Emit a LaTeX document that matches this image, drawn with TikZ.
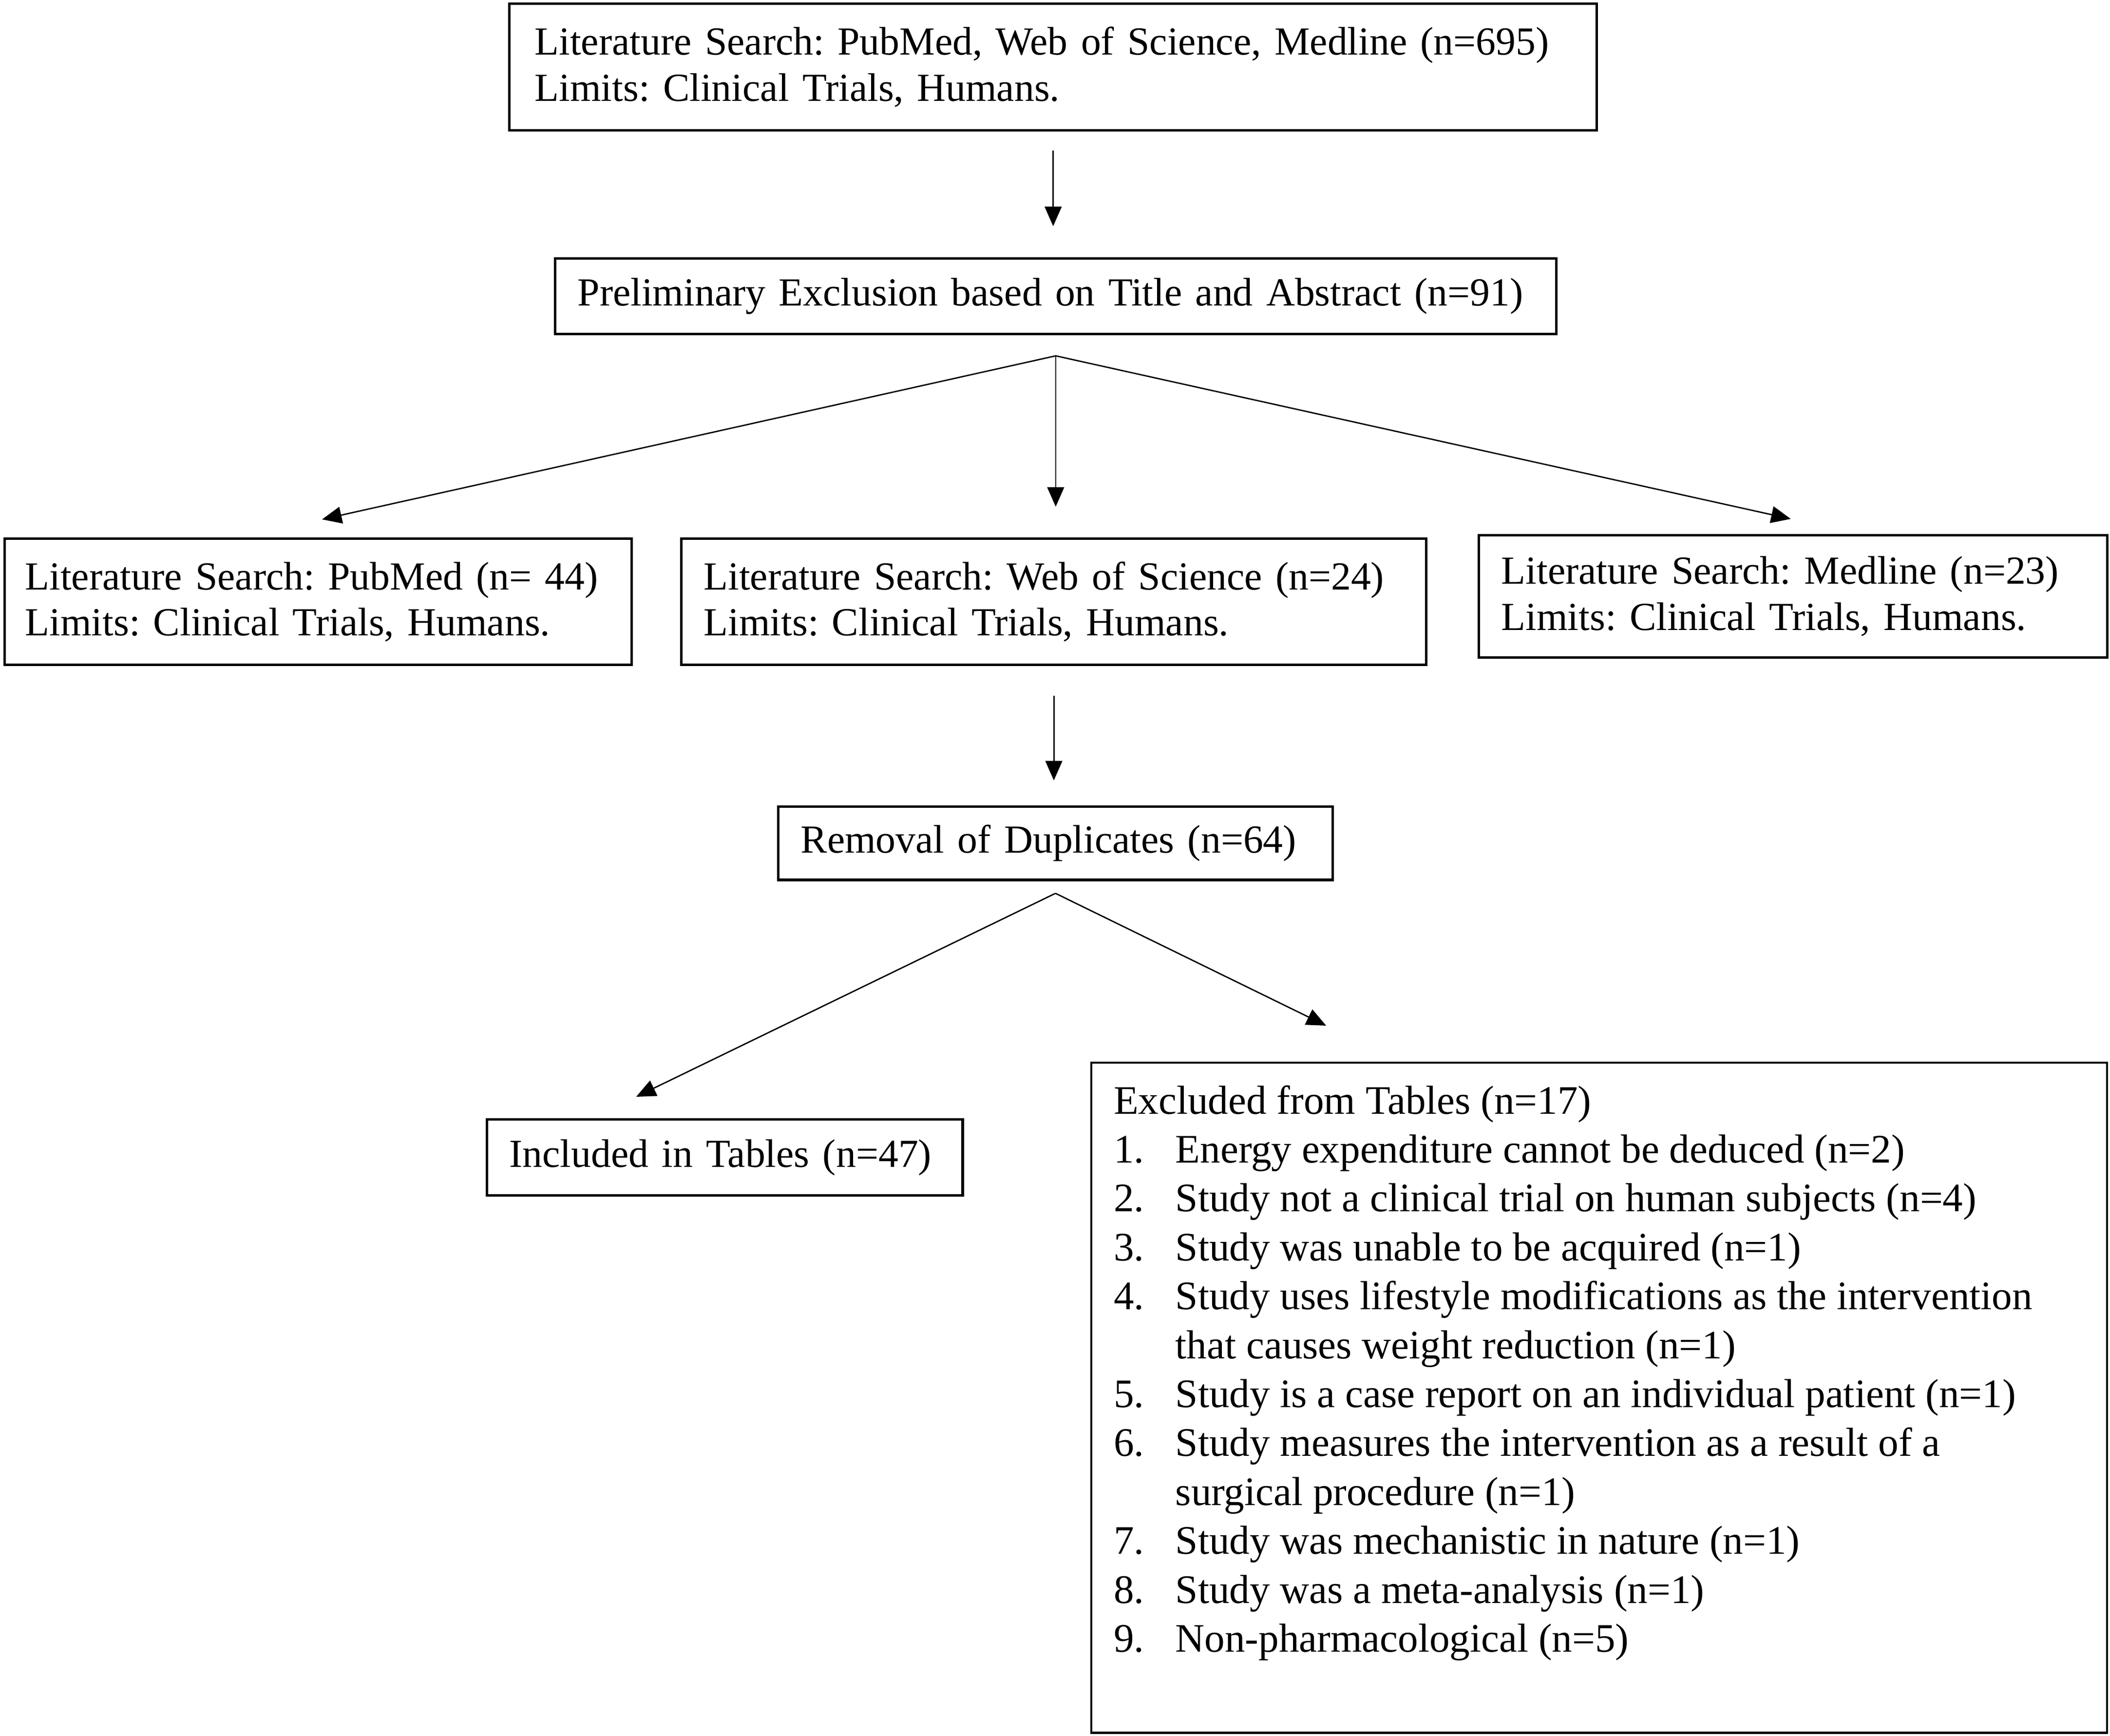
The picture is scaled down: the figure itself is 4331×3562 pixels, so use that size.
\documentclass[tikz,border=0pt]{standalone}
\usepackage{fontspec}
\setmainfont{Liberation Serif}
\usetikzlibrary{arrows.meta, positioning, calc}

\newcommand{\itemno}[1]{\makebox[18.3pt][l]{#1}}

\begin{document}
\frenchspacing
\begin{tikzpicture}[x=0.1444pt, y=-0.1444pt,
    every node/.style={draw, line width=0.75pt, anchor=north west, align=left, inner xsep=6.64pt, inner ysep=0pt, font=\fontsize{11.8}{13.6}\selectfont},
    arr/.style={line width=0.4pt, -{Triangle[length=5.8pt, width=5pt]}}]
    \useasboundingbox (0,0) rectangle (4331,3562);

    % Top node
    \node (search) [text width=307.3pt, minimum height=37.5pt, inner xsep=7.51pt] at (1043,5)
        {Literature Search: PubMed, Web of Science, Medline (n=695)\\Limits: Clinical Trials, Humans.};
    % Screening node
    \node (prelim) [text width=283.4pt, minimum height=22.4pt] at (1137,528)
        {Preliminary Exclusion based on Title and Abstract (n=91)};
    % Three database nodes
    \node (pubmed) [text width=173.7pt, minimum height=37.4pt, inner xsep=6.06pt] at (7,1103)
        {Literature Search: PubMed (n=~44)\\Limits: Clinical Trials, Humans.};
    \node (wos) [text width=207.5pt, minimum height=37.4pt] at (1396,1103)
        {Literature Search: Web of Science (n=24)\\Limits: Clinical Trials, Humans.};
    \node (medline) [text width=173pt, minimum height=36.2pt] at (3033,1096)
        {Literature Search: Medline (n=23)\\Limits: Clinical Trials, Humans.};
    % Duplicates node
    \node (dupes) [text width=151pt, minimum height=21.7pt] at (1595,1653)
        {Removal of Duplicates (n=64)};
    % Bottom-left node
    \node (included) [text width=127.7pt, minimum height=22.5pt] at (997,2295)
        {Included in Tables (n=47)};
    % Bottom-right node
    \node (excluded) [line width=0.6pt, inner ysep=5pt, minimum height=198.6pt] at (2238,2179)
        {\begin{minipage}[t][188.6pt][t]{287.8pt}
        \fontsize{12}{14.5}\selectfont
        \strut Excluded from Tables (n=17)\\
        \itemno{1.}Energy expenditure cannot be deduced (n=2)\\
        \itemno{2.}Study not a clinical trial on human subjects (n=4)\\
        \itemno{3.}Study was unable to be acquired (n=1)\\
        \itemno{4.}Study uses lifestyle modifications as the intervention\\
        \itemno{}that causes weight reduction (n=1)\\
        \itemno{5.}Study is a case report on an individual patient (n=1)\\
        \itemno{6.}Study measures the intervention as a result of a\\
        \itemno{}surgical procedure (n=1)\\
        \itemno{7.}Study was mechanistic in nature (n=1)\\
        \itemno{8.}Study was a meta-analysis (n=1)\\
        \itemno{9.}Non-pharmacological (n=5)
        \end{minipage}};

    % Edges
    \draw[arr, shorten <=5.6pt, shorten >=9.2pt] (search.south) -- (search.south |- prelim.north);
    \coordinate (splitA) at ($(prelim.south)+(0,42)$);
    \draw[arr] (splitA) -- ($(pubmed.north)+(8,-37)$);
    \draw[arr] (splitA) -- ($(splitA |- wos.north)+(0,-63)$);
    \draw[arr] (splitA) -- ($(medline.north)+(-5,-31)$);
    \draw[arr, shorten <=8.8pt, shorten >=7.4pt] (wos.south) -- (wos.south |- dupes.north);
    \coordinate (splitB) at ($(dupes.south)+(0,25)$);
    \draw[arr] (splitB) -- ($(included.north)+(-182,-44)$);
    \draw[arr] (splitB) -- ($(excluded.north west)+(484,-74)$);
\end{tikzpicture}
\end{document}
